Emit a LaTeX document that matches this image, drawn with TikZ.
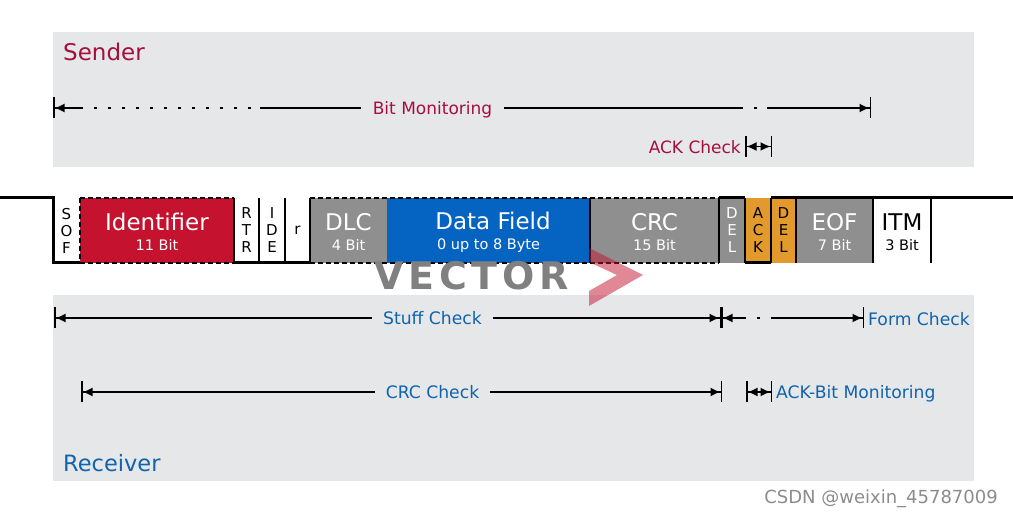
\documentclass[tikz,border=0pt]{standalone}
\usepackage{fontspec}
\setmainfont{DejaVu Sans}
\usetikzlibrary{positioning, arrows.meta}

\definecolor{panelgray}{HTML}{E6E7E9}
\definecolor{fieldgray}{HTML}{8F8F8F}
\definecolor{vecred}{HTML}{C4122F}
\definecolor{sendred}{HTML}{A50F3C}
\definecolor{recvblue}{HTML}{1063AD}
\definecolor{datablue}{HTML}{0563C1}
\definecolor{ackorange}{HTML}{E39A2C}

\tikzset{
    panel/.style={fill=panelgray, draw=none, inner sep=0, outer sep=0, anchor=north west},
    field/.style={draw=none, inner sep=0, outer sep=0, anchor=north west, minimum height=65, text=white, align=center, font=\fontsize{23}{24}\selectfont},
    bitfield/.style={field, text=black, font=\fontsize{15}{17}\selectfont},
    buswire/.style={line width=3, black},
    dashwire/.style={line width=1.4, black, dash pattern=on 5 off 3},
    divider/.style={line width=1.4, black},
    dimline/.style={line width=1.8, black},
    dimdots/.style={line width=2.2, black, dash pattern=on 3 off 11},
    barleft/.style={{Bar[width=21,line width=1.5]Latex[length=10,width=9]}-},
    barright/.style={-{Latex[length=10,width=9]Bar[width=21,line width=1.5]}},
    barboth/.style={{Bar[width=21,line width=1.5]Latex[length=10,width=9]}-{Latex[length=10,width=9]Bar[width=21,line width=1.5]}},
    sendlabel/.style={text=sendred, inner sep=0, font=\fontsize{17}{20}\selectfont},
    recvlabel/.style={text=recvblue, inner sep=0, font=\fontsize{17.2}{20}\selectfont},
}
\newcommand{\twolines}[2]{\rule{0pt}{21pt}#1\\[-4pt]{\fontsize{14.5}{17}\selectfont #2}}

\begin{document}
\begin{tikzpicture}[x=1pt, y=-1pt]

    \useasboundingbox (0,0) rectangle (1013,518);

    % grey panels
    \node[panel, minimum width=921, minimum height=135] (senderpanel) at (53,32) {};
    \node[panel, minimum width=921, minimum height=186] (receiverpanel) at (53,295) {};

    \node[anchor=west, text=sendred, inner sep=0, font=\fontsize{23}{27}\selectfont] (sender) at (63,52) {Sender};
    \node[anchor=west, text=recvblue, inner sep=0, font=\fontsize{22.5}{27}\selectfont] (receiver) at (63,463) {Receiver};

    % frame fields
    \node[bitfield, minimum width=27] (sof) at (53,198) {S\\O\\F};
    \node[field, fill=vecred, minimum width=154] (identifier) at (80,198) {\twolines{Identifier}{11 Bit}};
    \node[bitfield, minimum width=25] (rtr) at (234,198) {R\\T\\R};
    \node[bitfield, minimum width=26] (ide) at (259,198) {I\\D\\E};
    \node[bitfield, minimum width=25] (res) at (285,198) {r};
    \node[field, fill=fieldgray, minimum width=77] (dlc) at (310,198) {\twolines{DLC}{4 Bit}};
    \node[field, fill=datablue, minimum width=203] (data) at (387,198) {\twolines{\hspace*{9pt}Data Field}{0 up to 8 Byte}};
    \node[field, fill=fieldgray, minimum width=129] (crc) at (590,198) {\twolines{CRC}{15 Bit}};
    \node[bitfield, fill=fieldgray, text=white, minimum width=26] (crcdel) at (719,198) {D\\E\\L};
    \node[bitfield, fill=ackorange, minimum width=26] (ack) at (745,198) {A\\C\\K};
    \node[bitfield, fill=ackorange, minimum width=25] (ackdel) at (771,198) {D\\E\\L};
    \node[field, fill=fieldgray, minimum width=77] (eof) at (796,198) {\twolines{EOF}{7 Bit}};
    \node[field, text=black, minimum width=58] (itm) at (873,198) {\twolines{ITM}{3 Bit}};

    % bus level
    \coordinate (busleft) at (0,198);
    \coordinate (busright) at (1013,198);
    \draw[buswire] (busleft) -- (sof.north west) -- (sof.south west) -- (sof.south east);
    \draw[buswire] (rtr.south west) -- (res.south east);
    \draw[buswire] (crcdel.north west) -- (crcdel.north east);
    \draw[buswire] (ack.south west) -- (ack.south east);
    \draw[buswire] (ackdel.north west) -- (busright);

    \draw[dashwire] (identifier.north west) -- (identifier.north east);
    \draw[dashwire] (identifier.south west) -- (identifier.south east);
    \draw[dashwire] (identifier.north west) -- (identifier.south west);
    \draw[dashwire] (dlc.north west) -- (crc.north east);
    \draw[dashwire] (dlc.south west) -- (crc.south east);

    \draw[divider] (rtr.north west) -- (rtr.south west);
    \draw[divider] (ide.north west) -- (ide.south west);
    \draw[divider] (res.north west) -- (res.south west);
    \draw[divider] (dlc.north west) -- (dlc.south west);
    \draw[divider] (crc.north west) -- (crc.south west);
    \draw[divider] (crcdel.north west) -- (crcdel.south west);
    \draw[divider] (ack.north west) -- (ack.south west);
    \draw[divider] (ack.north east) -- (ack.south east);
    \draw[divider] (ackdel.north east) -- (ackdel.south east);
    \draw[divider] (eof.north east) -- (eof.south east);
    \draw[divider] (itm.north east) -- (itm.south east);

    % logo
    \node[anchor=west, inner sep=0, text=black!50, font=\fontsize{38}{44}\bfseries\addfontfeature{LetterSpace=12.5}\selectfont] (logo) at (374,276) {VECTOR};
    \fill[vecred, opacity=.5] (589,248) -- (643,275) -- (589,306) -- (589,291) -- (617,275) -- (589,262) -- cycle;

    % sender checks
    \node[sendlabel] (bitmon) at (432.5,110) {Bit Monitoring};
    \coordinate (bitl) at (53,108);
    \coordinate (bitla) at (83,108);
    \coordinate (bitlb) at (94,108);
    \coordinate (bitlc) at (260,108);
    \coordinate (bitls) at (361,108);
    \coordinate (bitrs) at (504,108);
    \coordinate (bitra) at (743,108);
    \coordinate (bitda) at (754,108);
    \coordinate (bitdb) at (757,108);
    \coordinate (bitrb) at (767,108);
    \coordinate (bitr) at (871,108);
    \draw[dimline, barleft] (bitl) -- (bitla);
    \draw[dimdots] (bitlb) -- (bitlc);
    \draw[dimline] (bitlc) -- (bitls);
    \draw[dimline] (bitrs) -- (bitra);
    \draw[dimdots] (bitda) -- (bitdb);
    \draw[dimline, barright] (bitrb) -- (bitr);

    \node[sendlabel, anchor=east] (ackcheck) at (741,147.5) {ACK Check};
    \coordinate (ackl) at (745,146.5);
    \coordinate (ackr) at (772,146.5);
    \draw[dimline, barboth] (ackl) -- (ackr);

    % receiver checks
    \node[recvlabel] (stuff) at (432.5,318) {Stuff Check};
    \coordinate (stuffl) at (54,318);
    \coordinate (stuffa) at (372,318);
    \coordinate (stuffb) at (493,318);
    \coordinate (stuffr) at (721,318);
    \draw[dimline, barleft] (stuffl) -- (stuffa);
    \draw[dimline, barright] (stuffb) -- (stuffr);

    \node[recvlabel, anchor=west] (form) at (868,319) {Form Check};
    \coordinate (formla) at (746,318);
    \coordinate (formda) at (757,318);
    \coordinate (formdb) at (760,318);
    \coordinate (formrb) at (771,318);
    \coordinate (formr) at (864,318);
    \draw[dimline, barleft] (stuffr) -- (formla);
    \draw[dimdots] (formda) -- (formdb);
    \draw[dimline, barright] (formrb) -- (formr);

    \node[recvlabel] (crccheck) at (432.5,392) {CRC Check};
    \coordinate (crcl) at (81,392);
    \coordinate (crca) at (375,392);
    \coordinate (crcb) at (490,392);
    \coordinate (crcr) at (722,392);
    \draw[dimline, barleft] (crcl) -- (crca);
    \draw[dimline, barright] (crcb) -- (crcr);

    \node[recvlabel, anchor=west] (ackmon) at (776,393.5) {ACK-Bit Monitoring};
    \coordinate (ackmonl) at (746,392);
    \coordinate (ackmonr) at (772,392);
    \draw[dimline, barboth] (ackmonl) -- (ackmonr);

    \node[anchor=east, inner sep=0, text=black!45, font=\fontsize{18}{21}\selectfont] (csdn) at (998,499) {CSDN @weixin\_45787009};

\end{tikzpicture}
\end{document}
